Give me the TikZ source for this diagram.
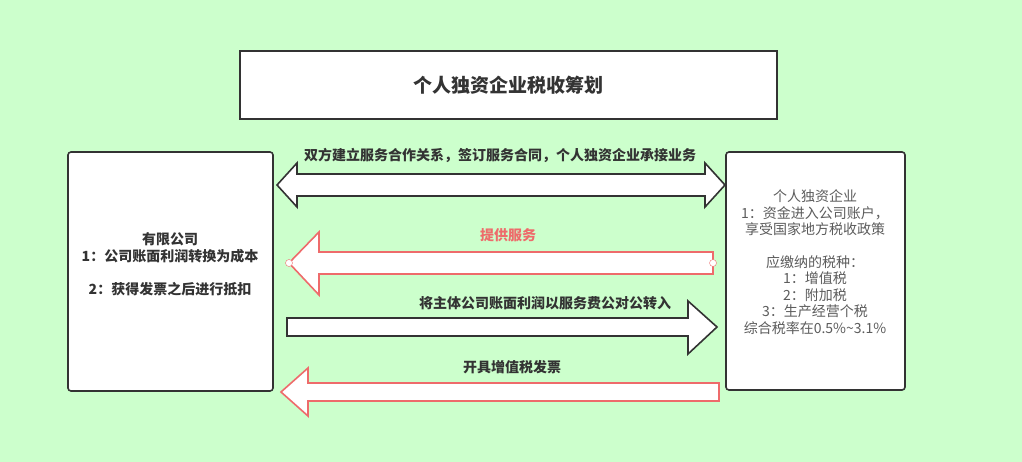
\documentclass[tikz,border=0pt]{standalone}
\usepackage{fontspec}
\setmainfont{Noto Sans CJK SC}
\definecolor{bgmain}{HTML}{CCFFCC}
\definecolor{arrred}{HTML}{EE6B6B}
\definecolor{boxdark}{HTML}{333333}
\tikzset{
  panel/.style={draw=boxdark, line width=1.6pt, fill=white, rounded corners=3pt},
  bararrow/.style={draw=boxdark, line width=1.6pt, fill=white, line join=miter},
  redarrow/.style={draw=arrred, line width=1.6pt, fill=white, line join=miter},
  lbl/.style={font=\fontsize{14}{17}\selectfont\bfseries, text=boxdark},
}
\begin{document}
\begin{tikzpicture}[x=1pt, y=-1pt]
    % Background
    \fill[bgmain] (0,0) rectangle (1022,462);
    \useasboundingbox (0,0) rectangle (1022,462);

    % Title and boxes
    \draw[panel, rounded corners=0pt] (240,51) rectangle (777,119);
    \node[font=\fontsize{19}{22}\selectfont\bfseries, text=boxdark] (title) at (508,85) {个人独资企业税收筹划};
    \draw[panel] (68,152) rectangle (273,391);
    \draw[panel] (726,152) rectangle (905,390);
    \node[lbl, align=center] (company) at (170,264) {有限公司\\1：公司账面利润转换为成本\\[16pt]2：获得发票之后进行抵扣};
    \node[font=\fontsize{14}{16.5}\selectfont, text=boxdark!80, align=center] (firm) at (815,262)
        {个人独资企业\\1：资金进入公司账户，\\享受国家地方税收政策\\[16pt]应缴纳的税种：\\1：增值税\\2：附加税\\3：生产经营个税\\综合税率在0.5\%\textasciitilde3.1\%};

    % Double arrow
    \draw[bararrow] (277,185) -- (297,163) -- (297,174) -- (705,174) -- (705,163) -- (725,185)
        -- (705,207) -- (705,196) -- (297,196) -- (297,207) -- cycle;
    \node[lbl] (agree) at (500,155) {双方建立服务合作关系，签订服务合同，个人独资企业承接业务};

    % Service arrow
    \draw[redarrow] (289,263) -- (319,232) -- (319,252) -- (713,252) -- (713,274) -- (319,274) -- (319,295) -- cycle;
    \draw[arrred, fill=white] (289,263) circle (3.5) (713,263) circle (3.5);
    \node[lbl, text=arrred] (service) at (508,235) {提供服务};

    % Payment arrow
    \draw[bararrow] (287,318) -- (688,318) -- (688,301) -- (717,327) -- (688,354) -- (688,336) -- (287,336) -- cycle;
    \node[lbl] (pay) at (545,303) {将主体公司账面利润以服务费公对公转入};

    % Invoice arrow
    \draw[redarrow] (281,392) -- (308,368) -- (308,383) -- (719,383) -- (719,401) -- (308,401) -- (308,416) -- cycle;
    \node[lbl] (invoice) at (512,367) {开具增值税发票};
\end{tikzpicture}
\end{document}
